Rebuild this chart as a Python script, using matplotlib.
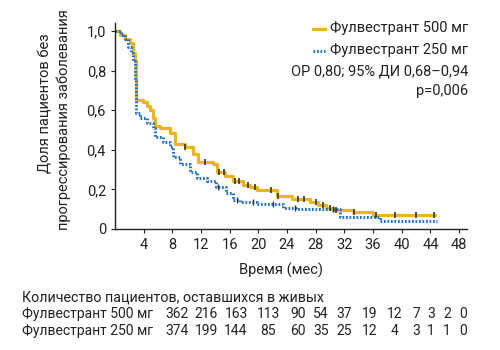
import numpy as np
import matplotlib
matplotlib.use("Agg")
import matplotlib.pyplot as plt

plt.rcParams['font.family'] = ['Roboto', 'DejaVu Sans']

# Kaplan-Meier curves (month, share without progression)
t500 = [0, 0.7, 1.4, 2.1, 2.5, 2.8, 2.9, 3.9, 4.4, 4.9, 5.3, 5.6, 6.3, 7.7, 8.4, 9.8,
        10.9, 11.6, 13.7, 14.2, 15.3, 16.5, 17.9, 18.8, 19.8, 22.6, 24.7, 27.2, 28.3,
        29.5, 30.4, 33.2, 36.0, 44.6]
s500 = [1.0, 0.98, 0.96, 0.94, 0.89, 0.85, 0.65, 0.64, 0.62, 0.60, 0.56, 0.52, 0.51,
        0.485, 0.43, 0.415, 0.38, 0.34, 0.33, 0.29, 0.27, 0.24, 0.22, 0.21, 0.197, 0.167,
        0.15, 0.137, 0.12, 0.105, 0.096, 0.086, 0.07, 0.07]
t250 = [0, 0.8, 1.4, 1.8, 2.2, 2.5, 2.8, 2.9, 3.5, 4.4, 5.3, 5.6, 6.7, 7.7, 8.1, 9.1,
        10.5, 11.4, 12.8, 14.1, 15.5, 16.5, 17.4, 19.8, 23.5, 25.3, 31.4, 37.0, 44.9]
s250 = [1.0, 0.98, 0.96, 0.92, 0.89, 0.85, 0.75, 0.585, 0.56, 0.535, 0.51, 0.465, 0.44,
        0.415, 0.365, 0.33, 0.29, 0.26, 0.24, 0.21, 0.18, 0.147, 0.137, 0.126, 0.105,
        0.10, 0.06, 0.04, 0.04]
cens500 = [9.8, 12.5, 14.5, 15.2, 16.7, 17.3, 18.5, 19.5, 21.7, 22.8, 25.5, 26.3, 28.1,
           29.0, 30.0, 30.8, 33.4, 36.4, 39.0, 42.0, 44.5]
cens250 = [14.3, 17.0, 19.3, 22.0, 25.1, 30.4]

risk500 = [362, 216, 163, 113, 90, 54, 37, 19, 12, 7, 3, 2, 0]
risk250 = [374, 199, 144, 85, 60, 35, 25, 12, 4, 3, 1, 1, 0]
risk_cols = [177, 206, 236, 268, 298, 321, 344, 370, 395, 416, 431, 447, 463]

yellow = '#E9B520'
blue = '#1E6FC8'
W, H = 500, 350

fig = plt.figure(figsize=(5, 3.5), dpi=100)
ax = fig.add_axes([115 / W, 1 - 229 / H, (467 - 115) / W, (229 - 23) / H])


def step_at(t, s, x):
    return np.array(s)[np.searchsorted(t, x, side='right') - 1]


ax.step(t500, s500, where='post', color=yellow, lw=2.3)
ax.step(t250, s250, where='post', color=blue, lw=2.1, linestyle=(0, (0.6, 0.6)))
ax.plot(cens500, step_at(t500, s500, cens500), '|', color='#333333', ms=5, mew=1.2)
ax.plot(cens250, step_at(t250, s250, cens250), '|', color='#333333', ms=4, mew=1.0)

ax.set_xlim(0, 49.1)
ax.set_ylim(0, 1.04)
ax.set_xticks(range(4, 49, 4))
ax.set_yticks([0, 0.2, 0.4, 0.6, 0.8, 1.0])
ax.set_yticklabels(['0', '0,2', '0,4', '0,6', '0,8', '1,0'])
ax.tick_params(labelsize=10.5, length=3, width=0.8, color='#222222', labelcolor='#222222')
for side in ['top', 'right']:
    ax.spines[side].set_visible(False)
for side in ['left', 'bottom']:
    ax.spines[side].set_linewidth(1.0)
    ax.spines[side].set_color('#222222')


def ftxt(x, y, s, **kw):
    kw.setdefault('fontsize', 10.5)
    kw.setdefault('color', '#222222')
    fig.text(x / W, 1 - y / H, s, **kw)


# legend and stats
ftxt(468, 28, 'Фулвестрант 500 мг', ha='right', va='center')
ftxt(468, 50, 'Фулвестрант 250 мг', ha='right', va='center')
ftxt(468, 71, 'ОР 0,80; 95% ДИ 0,68–0,94', ha='right', va='center')
ftxt(468, 91, 'p=0,006', ha='right', va='center')
fig.add_artist(plt.Line2D([313 / W, 325 / W], [1 - 29 / H] * 2, color=yellow, lw=2.3))
fig.add_artist(plt.Line2D([313 / W, 325 / W], [1 - 51 / H] * 2, color=blue, lw=2.1,
                          linestyle=(0, (0.6, 0.6))))

ftxt(46, 103, 'Доля пациентов без', rotation=90, ha='center', va='center')
ftxt(64, 120, 'прогрессирования заболевания', rotation=90, ha='center', va='center')
ftxt(281, 270, 'Время (мес)', ha='center', va='center')

ftxt(22, 297, 'Количество пациентов, оставшихся в живых', va='center', fontsize=10.3)
ftxt(22, 314, 'Фулвестрант 500 мг', va='center', fontsize=10)
ftxt(22, 331, 'Фулвестрант 250 мг', va='center', fontsize=10)
for x, a, b in zip(risk_cols, risk500, risk250):
    ftxt(x, 314, str(a), ha='center', va='center', fontsize=10)
    ftxt(x, 331, str(b), ha='center', va='center', fontsize=10)

fig.savefig('out.png', dpi=100, facecolor='white')
